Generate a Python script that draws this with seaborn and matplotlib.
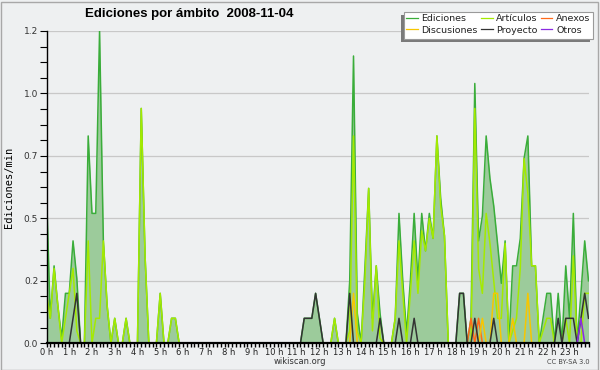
import matplotlib
matplotlib.use("Agg")
import matplotlib.pyplot as plt
from matplotlib.lines import Line2D
from matplotlib.patches import Rectangle
import numpy as np
import pandas as pd
import seaborn as sns

# ediciones/min, one sample every 10 min (each row = 2 hours)
ediciones = [
    0.61, 0.10, 0.31, 0.15, 0.02, 0.20, 0.20, 0.41, 0.26, 0.00, 0.00, 0.83,
    0.52, 0.52, 1.25, 0.41, 0.15, 0.00, 0.10, 0.00, 0.00, 0.10, 0.00, 0.00,
    0.00, 0.94, 0.35, 0.00, 0.00, 0.00, 0.20, 0.00, 0.00, 0.10, 0.10, 0.00,
    0.00, 0.00, 0.00, 0.00, 0.00, 0.00, 0.00, 0.00, 0.00, 0.00, 0.00, 0.00,
    0.00, 0.00, 0.00, 0.00, 0.00, 0.00, 0.00, 0.00, 0.00, 0.00, 0.00, 0.00,
    0.00, 0.00, 0.00, 0.00, 0.00, 0.00, 0.00, 0.00, 0.10, 0.10, 0.10, 0.20,
    0.10, 0.00, 0.00, 0.00, 0.10, 0.00, 0.00, 0.00, 0.25, 1.15, 0.12, 0.00,
    0.30, 0.62, 0.10, 0.31, 0.12, 0.00, 0.00, 0.00, 0.10, 0.52, 0.25, 0.04,
    0.25, 0.52, 0.25, 0.52, 0.37, 0.52, 0.42, 0.83, 0.58, 0.43, 0.00, 0.00,
    0.00, 0.20, 0.20, 0.00, 0.10, 1.04, 0.41, 0.51, 0.83, 0.66, 0.55, 0.40,
    0.24, 0.41, 0.00, 0.31, 0.31, 0.42, 0.74, 0.83, 0.31, 0.31, 0.00, 0.10,
    0.20, 0.20, 0.00, 0.20, 0.00, 0.31, 0.10, 0.52, 0.00, 0.20, 0.41, 0.25,
]
articulos = [
    0.20, 0.10, 0.30, 0.15, 0.00, 0.10, 0.20, 0.30, 0.05, 0.00, 0.00, 0.41,
    0.00, 0.10, 0.10, 0.41, 0.15, 0.00, 0.10, 0.00, 0.00, 0.10, 0.00, 0.00,
    0.00, 0.94, 0.35, 0.00, 0.00, 0.00, 0.20, 0.00, 0.00, 0.10, 0.10, 0.00,
    0.00, 0.00, 0.00, 0.00, 0.00, 0.00, 0.00, 0.00, 0.00, 0.00, 0.00, 0.00,
    0.00, 0.00, 0.00, 0.00, 0.00, 0.00, 0.00, 0.00, 0.00, 0.00, 0.00, 0.00,
    0.00, 0.00, 0.00, 0.00, 0.00, 0.00, 0.00, 0.00, 0.00, 0.00, 0.00, 0.00,
    0.00, 0.00, 0.00, 0.00, 0.10, 0.00, 0.00, 0.00, 0.05, 0.83, 0.05, 0.00,
    0.25, 0.62, 0.05, 0.31, 0.02, 0.00, 0.00, 0.00, 0.10, 0.41, 0.20, 0.00,
    0.20, 0.41, 0.20, 0.45, 0.37, 0.50, 0.42, 0.83, 0.55, 0.43, 0.00, 0.00,
    0.00, 0.00, 0.00, 0.00, 0.00, 0.94, 0.30, 0.20, 0.52, 0.40, 0.25, 0.10,
    0.10, 0.40, 0.00, 0.05, 0.10, 0.30, 0.74, 0.60, 0.31, 0.31, 0.00, 0.05,
    0.10, 0.10, 0.00, 0.00, 0.00, 0.10, 0.00, 0.35, 0.00, 0.00, 0.20, 0.20,
]
anexos = [0.0] * 112 + [0.10, 0.00, 0.10] + [0.0] * 29
discusiones = [
    0.00, 0.00, 0.00, 0.00, 0.00, 0.00, 0.00, 0.00, 0.00, 0.00, 0.00, 0.00,
    0.00, 0.00, 0.00, 0.00, 0.00, 0.00, 0.00, 0.00, 0.00, 0.00, 0.00, 0.00,
    0.00, 0.00, 0.00, 0.00, 0.00, 0.00, 0.00, 0.00, 0.00, 0.00, 0.00, 0.00,
    0.00, 0.00, 0.00, 0.00, 0.00, 0.00, 0.00, 0.00, 0.00, 0.00, 0.00, 0.00,
    0.00, 0.00, 0.00, 0.00, 0.00, 0.00, 0.00, 0.00, 0.00, 0.00, 0.00, 0.00,
    0.00, 0.00, 0.00, 0.00, 0.00, 0.00, 0.00, 0.00, 0.00, 0.00, 0.00, 0.00,
    0.00, 0.00, 0.00, 0.00, 0.00, 0.00, 0.00, 0.00, 0.00, 0.20, 0.00, 0.00,
    0.00, 0.00, 0.00, 0.00, 0.00, 0.00, 0.00, 0.00, 0.00, 0.00, 0.00, 0.00,
    0.00, 0.00, 0.00, 0.00, 0.00, 0.00, 0.00, 0.00, 0.00, 0.00, 0.00, 0.00,
    0.00, 0.00, 0.00, 0.00, 0.00, 0.00, 0.00, 0.10, 0.00, 0.00, 0.20, 0.20,
    0.00, 0.00, 0.00, 0.10, 0.00, 0.00, 0.00, 0.20, 0.00, 0.00, 0.00, 0.00,
    0.00, 0.00, 0.00, 0.00, 0.00, 0.00, 0.00, 0.00, 0.00, 0.00, 0.00, 0.00,
]
proyecto = [
    0.00, 0.00, 0.00, 0.00, 0.00, 0.00, 0.00, 0.10, 0.20, 0.00, 0.00, 0.00,
    0.00, 0.00, 0.00, 0.00, 0.00, 0.00, 0.00, 0.00, 0.00, 0.00, 0.00, 0.00,
    0.00, 0.00, 0.00, 0.00, 0.00, 0.00, 0.00, 0.00, 0.00, 0.00, 0.00, 0.00,
    0.00, 0.00, 0.00, 0.00, 0.00, 0.00, 0.00, 0.00, 0.00, 0.00, 0.00, 0.00,
    0.00, 0.00, 0.00, 0.00, 0.00, 0.00, 0.00, 0.00, 0.00, 0.00, 0.00, 0.00,
    0.00, 0.00, 0.00, 0.00, 0.00, 0.00, 0.00, 0.00, 0.10, 0.10, 0.10, 0.20,
    0.10, 0.00, 0.00, 0.00, 0.00, 0.00, 0.00, 0.00, 0.20, 0.00, 0.00, 0.00,
    0.00, 0.00, 0.00, 0.00, 0.10, 0.00, 0.00, 0.00, 0.00, 0.10, 0.00, 0.00,
    0.00, 0.10, 0.00, 0.00, 0.00, 0.00, 0.00, 0.00, 0.00, 0.00, 0.00, 0.00,
    0.00, 0.20, 0.20, 0.00, 0.00, 0.10, 0.00, 0.00, 0.00, 0.00, 0.10, 0.00,
    0.00, 0.00, 0.00, 0.00, 0.00, 0.00, 0.00, 0.00, 0.00, 0.00, 0.00, 0.00,
    0.00, 0.00, 0.00, 0.10, 0.00, 0.10, 0.10, 0.10, 0.00, 0.10, 0.20, 0.10,
]
otros = [0.0] * 141 + [0.10, 0.00, 0.00]

series = {
    "Ediciones": ediciones,
    "Artículos": articulos,
    "Anexos": anexos,
    "Discusiones": discusiones,
    "Proyecto": proyecto,
    "Otros": otros,
}
colors = {
    "Ediciones": "#3aad3a",
    "Artículos": "#a4ea00",
    "Anexos": "#ff6a1a",
    "Discusiones": "#f7c600",
    "Proyecto": "#333333",
    "Otros": "#8a2be2",
}
hour_labels = [f"{h} h" for h in range(24)]
ytick_values = [0.0, 0.25, 0.5, 0.75, 1.0, 1.25]
ytick_labels = ["0.0", "0.2", "0.5", "0.7", "1.0", "1.2"]

hora = np.arange(len(ediciones)) / 6.0
df = pd.DataFrame({"hora": hora, **series})
long_df = df.melt(id_vars="hora", var_name="ambito", value_name="ed_min")

bg = "#eef0f1"
W, H = 600, 370
fig = plt.figure(figsize=(6, 3.7), dpi=100, facecolor=bg)
ax = fig.add_axes([46.5 / W, 26.7 / H, 542 / W, 312.3 / H])
ax.set_facecolor(bg)

ax.fill_between(df["hora"], df["Ediciones"], color="#9ccb9b", lw=0, zorder=1)
sns.lineplot(data=long_df, x="hora", y="ed_min", hue="ambito",
             hue_order=list(series.keys()), palette=colors, estimator=None,
             linewidth=1.1, legend=False, ax=ax, zorder=2)

ax.set_xlim(0, hora[-1])
ax.set_ylim(0, 1.25)
ax.set_xticks(range(24))
ax.set_xticklabels(hour_labels, fontsize=6, color="#222222")
ax.set_xticks(np.arange(0, hora[-1] + 0.01, 1 / 6), minor=True)
ax.set_yticks(ytick_values)
ax.set_yticklabels(ytick_labels, fontsize=6.5, color="#333333")
ax.set_yticks(np.arange(0, 1.26, 0.0625), minor=True)
ax.tick_params(axis="x", which="both", length=3, width=1, pad=0.5)
ax.tick_params(axis="y", which="both", length=5, width=0.8, pad=1)
ax.grid(axis="y", which="major", color="#c8c8c8", lw=0.9, zorder=0)
ax.set_axisbelow(True)
for s in ["top", "right"]:
    ax.spines[s].set_visible(False)
ax.spines["left"].set_linewidth(1.0)
ax.spines["bottom"].set_linewidth(1.6)
ax.set_xlabel("")
ax.set_ylabel("Ediciones/min", family="DejaVu Sans Mono", fontsize=7.5, labelpad=7)

fig.text(85 / W, 1 - 14 / H, "Ediciones por ámbito  2008-11-04",
         family="Liberation Sans", fontsize=9.5, fontweight="bold",
         va="center", ha="left")
fig.text(300 / W, 1 - 362 / H, "wikiscan.org", fontsize=6, ha="center",
         va="center", color="#333333")
fig.text(590 / W, 1 - 362 / H, "CC BY-SA 3.0", fontsize=4.8, ha="right",
         va="center", color="#444444")

# legend frame with its shadow (drawn over the plot area)
fig.patches.append(Rectangle((401 / W, 1 - 42 / H), 189 / W, 27 / H,
                             transform=fig.transFigure, fc="#7a7a7a", ec="none",
                             zorder=3))
fig.patches.append(Rectangle((404 / W, 1 - 39 / H), 189 / W, 27 / H,
                             transform=fig.transFigure, fc="white",
                             ec="#9a9a9a", lw=0.8, zorder=4))
order = ["Ediciones", "Discusiones", "Artículos", "Proyecto", "Anexos", "Otros"]
handles = [Line2D([], [], color=colors[n], lw=0.9) for n in order]
leg = fig.legend(handles, order, ncol=3, loc="upper left",
                 bbox_to_anchor=(405 / W, 1 - 13 / H),
                 frameon=False, fontsize=6.8, handlelength=1.2,
                 handletextpad=0.4, columnspacing=0.35, borderaxespad=0,
                 borderpad=0.15, labelspacing=0.25)
leg.set_zorder(5)
for t in leg.get_texts():
    t.set_color("#222222")

fig.patches.append(Rectangle((0.5 / W, 0.5 / H), (W - 3) / W, (H - 2) / H,
                             transform=fig.transFigure, fc="none", ec="#a8a8a8", lw=1))

fig.savefig("out.png", dpi=100, facecolor=bg)
